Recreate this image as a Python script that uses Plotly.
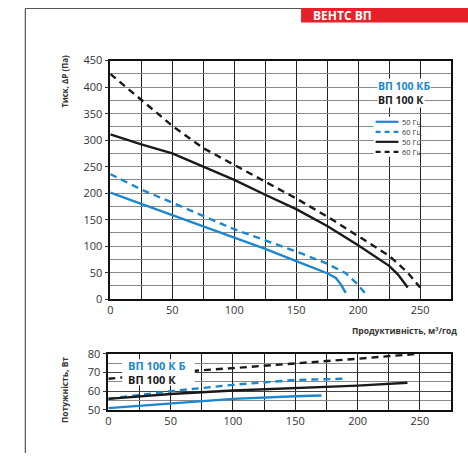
import plotly.graph_objects as go

W, H = 468, 460

# ---- data: pressure curves (top chart) ----
flow_kb_50 = [0, 25, 50, 75, 100, 125, 150, 175, 182, 186, 190]
pres_kb_50 = [201, 180, 159, 138, 117, 95, 72, 49, 40, 28, 12]

flow_kb_60 = [0, 25, 50, 75, 100, 125, 150, 175, 190, 200, 206]
pres_kb_60 = [236, 207, 182, 157, 132, 111, 90, 67, 49, 27, 10]

flow_k_50 = [0, 25, 50, 75, 100, 125, 150, 175, 200, 225, 232, 240]
pres_k_50 = [311, 292, 275, 250, 225, 197, 170, 138, 102, 63, 47, 22]

flow_k_60 = [0, 25, 50, 75, 100, 125, 150, 175, 200, 225, 240, 250]
pres_k_60 = [425, 376, 327, 285, 253, 221, 190, 156, 119, 82, 50, 22]

# ---- data: power curves (bottom chart) ----
pflow_kb_50 = [0, 50, 100, 150, 171]
power_kb_50 = [51, 53.5, 55.9, 57.3, 57.7]

pflow_kb_60 = [0, 50, 100, 150, 188]
power_kb_60 = [56, 60, 63.4, 66, 66.6]

pflow_k_50 = [0, 50, 100, 150, 200, 240]
power_k_50 = [55.9, 58.5, 60.4, 61.6, 63, 64.5]

pflow_k_60 = [0, 50, 100, 150, 200, 250]
power_k_60 = [66.6, 70, 72.3, 74.6, 77.3, 80]

x_ticks = [0, 50, 100, 150, 200, 250]
p_ticks = [0, 50, 100, 150, 200, 250, 300, 350, 400, 450]
w_ticks = [50, 60, 70, 80]

legend_labels = ["50 Гц", "60 Гц", "50 Гц", "60 Гц"]

BLUE = "#1b87cf"
BLACK = "#1a1a1a"
FONT = "Open Sans"

# the capture shows the page slightly offset and squeezed vertically;
# map target picture rows to figure rows
Y_OFF, Y_SCALE = 8.5, 0.965


def px(x):
    return x / W


def py(y):
    yf = (y - Y_OFF) / Y_SCALE
    yf = max(0.5, min(H - 0.5, yf))
    return 1 - yf / H


fig = go.Figure()

series_top = [
    (flow_kb_50, pres_kb_50, BLUE, "solid"),
    (flow_kb_60, pres_kb_60, BLUE, "7px,5px"),
    (flow_k_50, pres_k_50, BLACK, "solid"),
    (flow_k_60, pres_k_60, BLACK, "7px,5px"),
]
for xs, ys, c, d in series_top:
    fig.add_trace(go.Scatter(x=xs, y=ys, mode="lines", xaxis="x", yaxis="y",
                             line=dict(color=c, width=2.4, dash=d),
                             showlegend=False, hoverinfo="skip"))

series_bot = [
    (pflow_kb_50, power_kb_50, BLUE, "solid"),
    (pflow_kb_60, power_kb_60, BLUE, "7px,5px"),
    (pflow_k_50, power_k_50, BLACK, "solid"),
    (pflow_k_60, power_k_60, BLACK, "7px,5px"),
]
for xs, ys, c, d in series_bot:
    fig.add_trace(go.Scatter(x=xs, y=ys, mode="lines", xaxis="x2", yaxis="y2",
                             line=dict(color=c, width=2.4, dash=d),
                             showlegend=False, hoverinfo="skip"))

tickfont = dict(family=FONT, size=11, color="#333")
vgrid = "#222"
hgrid = "#8a8a8a"

common_x = dict(range=[0, 275], tickvals=x_ticks, showline=True, linecolor="#111",
                linewidth=1.6, mirror=True, showgrid=True, gridcolor=vgrid, gridwidth=1.4,
                minor=dict(dtick=25, tick0=0, showgrid=True, gridcolor=vgrid, gridwidth=1.4),
                ticks="", tickfont=tickfont, zeroline=False, fixedrange=True)

fig.update_layout(
    width=W, height=H,
    margin=dict(l=0, r=0, t=0, b=0),
    paper_bgcolor="white", plot_bgcolor="white",
    showlegend=False,
    xaxis=dict(domain=[px(108), px(451)], anchor="y", **common_x),
    yaxis=dict(domain=[py(299), py(61)], anchor="x", range=[0, 450], tickvals=p_ticks,
               showline=True, linecolor="#111", linewidth=1.6, mirror=True,
               showgrid=True, gridcolor=hgrid, gridwidth=1.3,
               minor=dict(dtick=25, tick0=0, showgrid=True, gridcolor=hgrid, gridwidth=1.3),
               ticks="outside", ticklen=4, tickcolor="#333", tickfont=tickfont,
               zeroline=False, fixedrange=True),
    xaxis2=dict(domain=[px(106), px(451)], anchor="y2", **common_x),
    yaxis2=dict(domain=[py(409.5), py(353.3)], anchor="x2", range=[50, 80], tickvals=w_ticks,
                showline=True, linecolor="#111", linewidth=1.6, mirror=True,
                showgrid=True, gridcolor="#444", gridwidth=1.3,
                minor=dict(dtick=5, tick0=50, showgrid=True, gridcolor=hgrid, gridwidth=1.3),
                ticks="outside", ticklen=4, tickcolor="#333", tickfont=tickfont,
                zeroline=False, fixedrange=True),
)

shapes = []
# outer frame lines
shapes.append(dict(type="line", xref="paper", yref="paper", x0=px(22.5), x1=px(22.5),
                   y0=py(9), y1=0, line=dict(color="#555", width=1.2)))
shapes.append(dict(type="line", xref="paper", yref="paper", x0=px(22.5), x1=px(300),
                   y0=py(9), y1=py(9), line=dict(color="#555", width=1.2)))
# red banner
shapes.append(dict(type="rect", xref="paper", yref="paper", x0=px(300), x1=1,
                   y0=py(23), y1=1, fillcolor="#e8202a", line=dict(width=0)))
# white box on bottom chart
shapes.append(dict(type="rect", xref="paper", yref="paper", x0=px(120), x1=px(193),
                   y0=py(385), y1=py(359), fillcolor="white", line=dict(width=0),
                   layer="above"))

annotations = []
annotations.append(dict(text="<b>ВЕНТС ВП</b>", xref="paper", yref="paper", x=px(310), y=py(15.5),
                        xanchor="left", yanchor="middle", showarrow=False,
                        font=dict(family=FONT, size=12, color="white")))
# axis titles
annotations.append(dict(text="<b>Тиск, ΔP (Па)</b>", xref="paper", yref="paper", x=px(62), y=py(53),
                        xanchor="center", yanchor="top", textangle=-90, showarrow=False,
                        font=dict(family=FONT, size=8, color="#333")))
annotations.append(dict(text="<b>Продуктивність, м³/год</b>", xref="paper", yref="paper",
                        x=px(459), y=py(330), xanchor="right", yanchor="middle", showarrow=False,
                        font=dict(family=FONT, size=8.5, color="#333")))
annotations.append(dict(text="<b>Потужність, Вт</b>", xref="paper", yref="paper", x=px(62), y=py(390),
                        xanchor="center", yanchor="middle", textangle=-90, showarrow=False,
                        font=dict(family=FONT, size=8.5, color="#333")))
# top legend titles
annotations.append(dict(text="<b>ВП 100 КБ</b>", xref="paper", yref="paper", x=px(376), y=py(86),
                        xanchor="left", yanchor="middle", showarrow=False, bgcolor="white",
                        borderpad=0, font=dict(family=FONT, size=10.5, color=BLUE)))
annotations.append(dict(text="<b>ВП 100 К</b>", xref="paper", yref="paper", x=px(376), y=py(100.5),
                        xanchor="left", yanchor="middle", showarrow=False, bgcolor="white",
                        borderpad=0, font=dict(family=FONT, size=10.5, color=BLACK)))
# top legend rows
rows_y = [122, 132, 142, 152]
row_styles = [(BLUE, "solid"), (BLUE, "5px,4px"), (BLACK, "solid"), (BLACK, "5px,4px")]
shapes.append(dict(type="rect", xref="paper", yref="paper", x0=px(373), x1=px(418),
                   y0=py(157), y1=py(117), fillcolor="white", line=dict(width=0)))
for ry, (c, d), lab in zip(rows_y, row_styles, legend_labels):
    shapes.append(dict(type="line", xref="paper", yref="paper", x0=px(375), x1=px(398),
                       y0=py(ry), y1=py(ry), line=dict(color=c, width=2.2, dash=d)))
    annotations.append(dict(text=lab, xref="paper", yref="paper", x=px(400), y=py(ry),
                            xanchor="left", yanchor="middle", showarrow=False,
                            font=dict(family=FONT, size=7.5, color="#333")))
# bottom legend
annotations.append(dict(text="<b>ВП 100 К Б</b>", xref="paper", yref="paper", x=px(124), y=py(365.5),
                        xanchor="left", yanchor="middle", showarrow=False,
                        font=dict(family=FONT, size=11, color=BLUE)))
annotations.append(dict(text="<b>ВП 100 К</b>", xref="paper", yref="paper", x=px(124), y=py(379.5),
                        xanchor="left", yanchor="middle", showarrow=False,
                        font=dict(family=FONT, size=11, color=BLACK)))

fig.update_layout(shapes=shapes, annotations=annotations)

post = (
    "var h=document.documentElement,b=document.body;"
    "h.style.margin='0';h.style.padding='0';"
    "b.style.margin='0';b.style.padding='0';"
)
fig.write_html("out.html", post_script=post, config={"displayModeBar": False})
